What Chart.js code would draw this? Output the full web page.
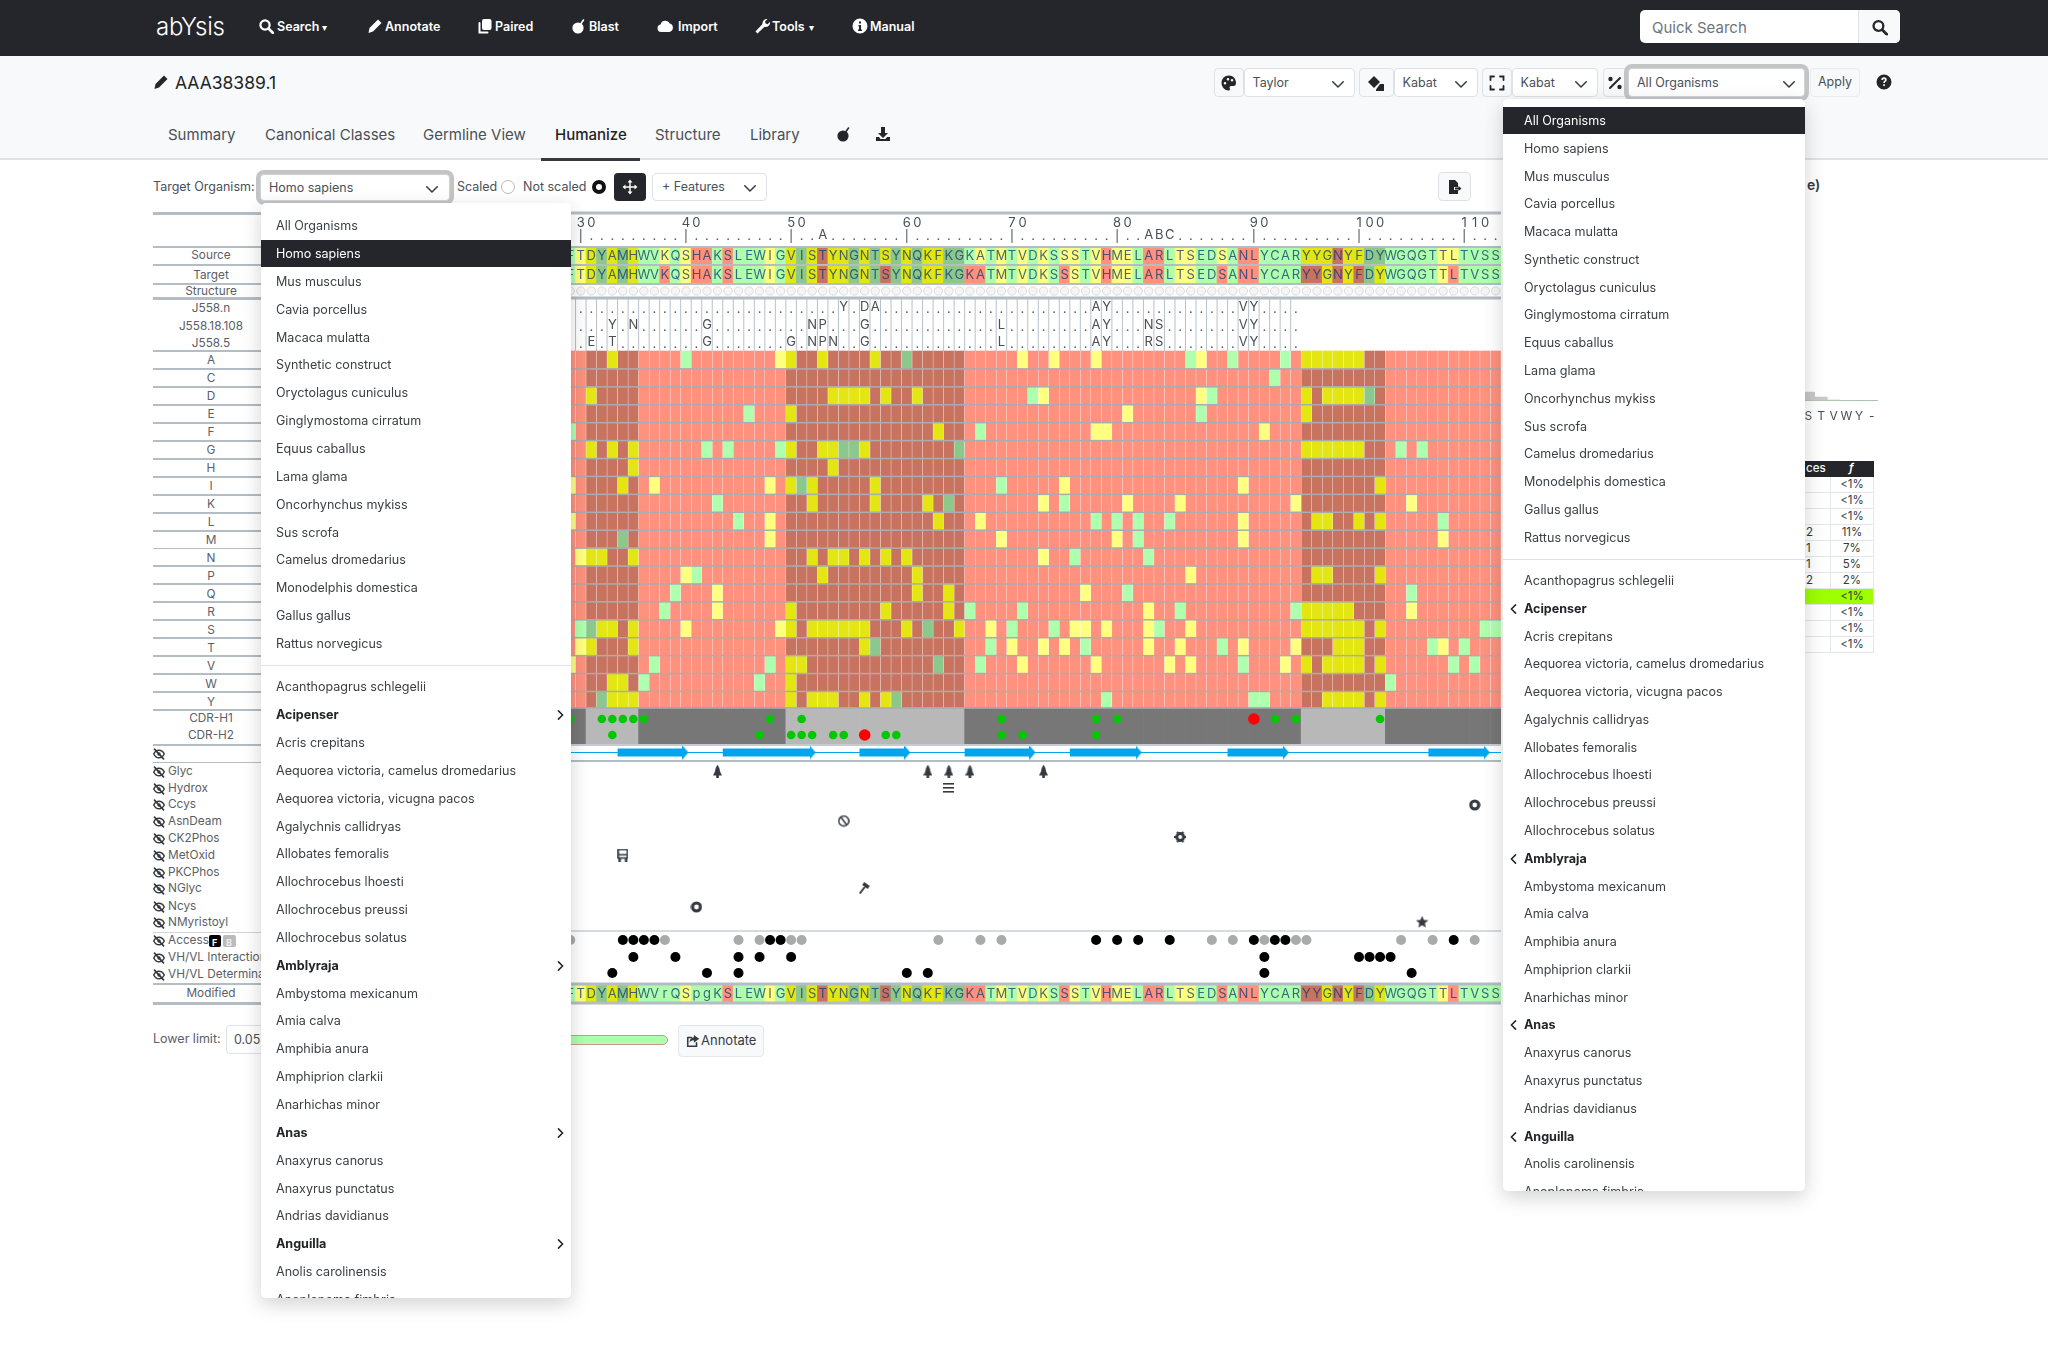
<!DOCTYPE html>
<html>
<head>
<meta charset="utf-8">
<title>AAA38389.1 - Humanize</title>
<script src="https://cdn.jsdelivr.net/npm/chart.js@4"></script>
<style>
html, body { margin: 0; background: #fff; }
body { position: relative; width: 2048px; height: 1348px; overflow: hidden; font-family: Inter, sans-serif; color: #343a40; font-size: 13.3px; }
.t { position: absolute; transform: translateY(-50%); white-space: nowrap; line-height: 1; }
.b { position: absolute; box-sizing: border-box; }
.i { position: absolute; transform: translateY(-50%); display: block; }
canvas { position: absolute; }
</style>
</head>
<body>
<canvas id="tracks" width="936" height="810" style="left:565px;top:205px;width:936px;height:810px;z-index:2"></canvas>
<canvas id="miniBars" width="76" height="50" style="left:1802px;top:375px;width:76px;height:50px;z-index:2"></canvas>
<script>
// ---- Data ----
const source = 'FTDYAMHWVKQSHAKSLEWIGVISTYNGNTSYNQKFKGKATMTVDKSSSTVHMELARLTSEDSANLYCARYYGNYFDYWGQGTTLTVSS';
const modified = 'FTDYAMHWVrQSpgKSLEWIGVISTYNGNTSYNQKFKGKATMTVDKSSSTVHMELARLTSEDSANLYCARYYGNYFDYWGQGTTLTVSS';
// g = common, y = uncommon, r = rare
const sourceFreq = 'gyygygyggygyrrgrgggygygyryygygygygyygggygygygygyygyryygrrgyyggygrrggggyyyryygggggggyygggg';
const targetFreq = 'gyygygyggrgyrrgrgggygygyryygygrgygyyggrrgygygygrygyryygrrgyyggrgrrggggrryryrgygggggyrgggg';
const modifiedFreq = 'gyygygyggggygggrgggygygyryygygrgygyyggrrgygygygrygyryygrrgyyggrgrrggggrryryrgygggggyrgggg';

// column index of each labelled position; letters are the insertions
const tickCols = [1, 11, 21, 32, 42, 52, 65, 75, 85];
const tickLabels = ['30', '40', '50', '60', '70', '80', '90', '100', '110'];
const insertionCols = [24, 55, 56, 57];
const insertionLabels = ['A', 'A', 'B', 'C'];

const germlineNames = ['J558.n', 'J558.18.108', 'J558.5'];
const germlineN = [[26, 'Y'], [28, 'D'], [29, 'A'], [50, 'A'], [51, 'Y'], [64, 'V'], [65, 'Y']];
const germline18 = [[4, 'Y'], [6, 'N'], [13, 'G'], [23, 'N'], [24, 'P'], [28, 'G'], [41, 'L'], [50, 'A'], [51, 'Y'], [55, 'N'], [56, 'S'], [64, 'V'], [65, 'Y']];
const germline5 = [[2, 'E'], [4, 'T'], [13, 'G'], [21, 'G'], [23, 'N'], [24, 'P'], [25, 'N'], [28, 'G'], [41, 'L'], [50, 'A'], [51, 'Y'], [55, 'R'], [56, 'S'], [64, 'V'], [65, 'Y']];

const aminoAcids = ['A', 'C', 'D', 'E', 'F', 'G', 'H', 'I', 'K', 'L', 'M', 'N', 'P', 'Q', 'R', 'S', 'T', 'V', 'W', 'Y'];
const rowYellow = [
  [4, 20, 21, 24, 29, 43, 46, 50, 60, 70, 71, 72, 73, 74, 75],
  [],
  [2, 25, 26, 27, 28, 30, 33, 45, 60, 70, 72, 73, 74, 75],
  [21, 53, 70],
  [35, 50, 51, 66],
  [2, 4, 6, 21, 24, 25, 28, 70, 71, 72, 73, 74, 75],
  [6, 25],
  [0, 5, 8, 19, 21, 23, 29, 47, 64, 77],
  [23, 29, 34, 45, 53, 58, 69, 80],
  [0, 19, 35, 39, 64, 71, 72, 75, 77],
  [19, 41, 52, 64, 83],
  [1, 2, 3, 6, 23, 25, 26, 28, 30, 32, 45],
  [11, 24, 33, 59, 71, 72, 77],
  [14, 33, 36, 49],
  [14, 21, 30, 36, 55, 70, 71, 72, 73, 74, 80],
  [3, 4, 6, 11, 20, 21, 23, 24, 25, 26, 27, 28, 32, 37, 40, 48, 49, 51, 55, 59, 70, 71, 72, 73, 74, 75, 77],
  [1, 2, 6, 28, 42, 45, 47, 55, 58, 64, 69, 73, 74, 75, 83],
  [0, 21, 22, 43, 50, 57, 59, 68, 70, 72, 73, 74, 75, 77],
  [4, 5, 21],
  [4, 5, 6, 21, 23, 24, 25, 28, 30, 72, 73, 74, 75, 77]
];
const rowGreen = [
  [11, 32, 59, 63, 68],
  [67],
  [44, 61, 76],
  [17, 60],
  [0, 39],
  [13, 15, 20, 26, 27, 37, 79, 81],
  [],
  [22, 41],
  [14, 36, 47],
  [16, 50, 52, 54, 57, 83],
  [5, 54],
  [48, 55],
  [12],
  [10, 53, 80],
  [9, 38, 43, 58, 69],
  [1, 2, 34, 42, 46, 56, 87, 88],
  [29, 40, 49, 62, 82, 85],
  [8, 19, 35, 39, 64, 84, 86],
  [7, 18, 78],
  [3, 31, 51, 65, 66]
];

const cdrRanges = [[2, 6], [21, 37], [70, 77]];
const cdrH1Green = [0, 3, 4, 5, 6, 7, 19, 22, 41, 50, 52, 67, 69, 77];
const cdrH1Red = [65];
const cdrH2Green = [4, 18, 21, 22, 23, 25, 26, 30, 31, 41, 43, 50];
const cdrH2Red = [28];

const strandRanges = [[4.5, 10.7], [14.5, 22.8], [27.5, 31.8], [37.5, 43.7], [47.5, 53.8], [62.5, 67.8], [81.6, 86.9]];

const glycCols = [14, 34, 36, 38, 45];
const hydroxCols = [36];
const ccysCols = [86];
const asnDeamCols = [26];
const ck2PhosCols = [58];
const metOxidCols = [5];
const nGlycCols = [28];
const nCysCols = [12];
const nMyristoylCols = [81];

const accessBlack = [5, 6, 7, 8, 19, 20, 50, 52, 54, 57, 65, 67, 68, 84];
const accessGray = [0, 9, 16, 18, 21, 22, 35, 39, 41, 61, 63, 66, 69, 70, 79, 82, 86];
const interactionCols = [6, 10, 16, 18, 21, 66, 75, 76, 77, 78];
const determinantCols = [4, 13, 16, 32, 34, 66, 80];

const miniLabels = ['S', 'T', 'V', 'W', 'Y', '-'];
const miniGray = [10, 4, 0, 0, 0, 0];
const miniGreen = [0, 0, 1, 0, 0, 0];
const freqValues = ['<1%', '<1%', '<1%', '11%', '7%', '5%', '2%', '<1%', '<1%', '<1%', '<1%'];
const countValues = ['', '', '', '2', '1', '1', '2', '', '', '', ''];

const mainOrganisms = ['All Organisms', 'Homo sapiens', 'Mus musculus', 'Cavia porcellus', 'Macaca mulatta', 'Synthetic construct', 'Oryctolagus cuniculus', 'Ginglymostoma cirratum', 'Equus caballus', 'Lama glama', 'Oncorhynchus mykiss', 'Sus scrofa', 'Camelus dromedarius', 'Monodelphis domestica', 'Gallus gallus', 'Rattus norvegicus'];
const otherOrganisms = ['Acanthopagrus schlegelii', 'Acipenser', 'Acris crepitans', 'Aequorea victoria, camelus dromedarius', 'Aequorea victoria, vicugna pacos', 'Agalychnis callidryas', 'Allobates femoralis', 'Allochrocebus lhoesti', 'Allochrocebus preussi', 'Allochrocebus solatus', 'Amblyraja', 'Ambystoma mexicanum', 'Amia calva', 'Amphibia anura', 'Amphiprion clarkii', 'Anarhichas minor', 'Anas', 'Anaxyrus canorus', 'Anaxyrus punctatus', 'Andrias davidianus', 'Anguilla', 'Anolis carolinensis', 'Anoplopoma fimbria'];
const organismGroups = ['Acipenser', 'Amblyraja', 'Anas', 'Anguilla'];

// ---- Layout (page pixels, the y scale of the tracks chart runs in them) ----
const HEAT_TOP = 351, HEAT_ROW = 17.92;
const SOURCE_ROW = [248, 264], TARGET_ROW = [266, 283], MODIFIED_ROW = [985, 1002];
const CDR_ROW = [708, 744];
const GERMLINE_Y = [307, 325, 342];
const FEATURE_Y = { glyc: 771, hydrox: 788, ccys: 805, asn: 821, ck2: 837, met: 855, ngly: 888, ncys: 907, myr: 922 };
const ACCESS_Y = [940, 957, 973];
const STRAND_Y = 752.5, STRUCTURE_Y = 291, CDR_Y = [719, 735];

const palette = { r: '#ff917e', g: '#aeffae', y: '#ffff80' };
const paletteCdr = { r: '#c8735f', g: '#8cc78c', y: '#e3e612' };

function inCdr(col) {
  return cdrRanges.some(r => col >= r[0] && col <= r[1]);
}

function cellColor(code, col) {
  return (inCdr(col) ? paletteCdr : palette)[code];
}

// ---- Tracks chart ----
function sequenceCells(freq, row) {
  return freq.split('').map((code, col) => ({ x: col, y: row, color: cellColor(code, col) }));
}

const heatCells = [];
aminoAcids.forEach((aa, row) => {
  const top = HEAT_TOP + row * HEAT_ROW;
  for (let col = 0; col < source.length; col++) {
    let code = 'r';
    if (rowYellow[row].includes(col)) code = 'y';
    if (rowGreen[row].includes(col)) code = 'g';
    heatCells.push({ x: col, y: [top, top + HEAT_ROW], color: cellColor(code, col) });
  }
});

const cdrCells = source.split('').map((_, col) => ({ x: col, y: CDR_ROW, color: inCdr(col) ? '#b8b8b8' : '#777777' }));
const allColumns = source.split('').map((_, col) => ({ x: col, y: STRUCTURE_Y }));

function at(cols, y) {
  return cols.map(col => ({ x: col, y: y }));
}

function strandLine() {
  const pts = [];
  strandRanges.forEach(r => { pts.push({ x: r[0], y: STRAND_Y }, { x: r[1], y: STRAND_Y }, { x: r[1], y: null }); });
  return pts;
}

function icon(w, h, draw) {
  const c = document.createElement('canvas');
  c.width = w; c.height = h;
  const g = c.getContext('2d');
  g.fillStyle = g.strokeStyle = '#343a40';
  draw(g);
  return c;
}

const arrowHead = icon(6, 14, g => { g.fillStyle = '#00a5ec'; g.beginPath(); g.moveTo(0, 0); g.lineTo(6, 7); g.lineTo(0, 14); g.fill(); });
const treeIcon = icon(9, 13, g => {
  g.beginPath(); g.moveTo(4.5, 0); g.lineTo(6.5, 4); g.lineTo(7, 7); g.lineTo(9, 11); g.lineTo(0, 11); g.lineTo(2, 7); g.lineTo(2.5, 4); g.fill();
  g.fillRect(3.2, 11, 2.6, 2);
});
const barsIcon = icon(11, 12, g => { g.fillRect(0, 1, 11, 1.6); g.fillRect(0, 5, 11, 1.6); g.fillRect(0, 9, 11, 1.6); });
const ringIcon = icon(12, 14, g => { g.lineWidth = 3.2; g.beginPath(); g.arc(6, 7, 4, 0, 7); g.stroke(); });
const banIcon = icon(12, 13, g => { g.lineWidth = 1.5; g.beginPath(); g.arc(6, 6.5, 5, 0, 7); g.moveTo(3, 2.5); g.lineTo(9, 10.5); g.stroke(); });
const gearIcon = icon(12, 12, g => {
  g.lineWidth = 3; g.beginPath(); g.arc(6, 6, 3.4, 0, 7); g.stroke();
  g.lineWidth = 2;
  for (let k = 0; k < 6; k++) { const a = k * Math.PI / 3; g.beginPath(); g.moveTo(6 + 3 * Math.cos(a), 6 + 3 * Math.sin(a)); g.lineTo(6 + 6 * Math.cos(a), 6 + 6 * Math.sin(a)); g.stroke(); }
});
const busIcon = icon(11, 13, g => { g.lineWidth = 1.6; g.strokeRect(1, 1, 9, 8.5); g.fillRect(1, 5.5, 9, 1.5); g.fillRect(1, 9.5, 2.5, 3.5); g.fillRect(7.5, 9.5, 2.5, 3.5); });
const hammerIcon = icon(12, 12, g => { g.lineWidth = 2; g.beginPath(); g.moveTo(1, 11.5); g.lineTo(6, 5); g.stroke(); g.lineWidth = 3.5; g.beginPath(); g.moveTo(4.5, 1.5); g.lineTo(10, 5.5); g.stroke(); });
const starIcon = icon(13, 13, g => {
  g.beginPath();
  for (let k = 0; k < 10; k++) { const a = -Math.PI / 2 + k * Math.PI / 5, r = k % 2 ? 2.9 : 6.5; g.lineTo(6.5 + r * Math.cos(a), 6.8 + r * Math.sin(a)); }
  g.fill();
});

function marks(data, style, radius) {
  return { type: 'scatter', data: data, pointStyle: style, pointRadius: radius || 5, pointBackgroundColor: '#343a40', pointBorderWidth: 0 };
}

function dots(data, color, radius) {
  return { type: 'scatter', data: data, pointRadius: radius, pointBackgroundColor: color, pointBorderWidth: 0 };
}

function cells(data, thickness) {
  return { type: 'bar', data: data, barThickness: thickness, grouped: false, backgroundColor: ctx => ctx.raw && ctx.raw.color };
}

// Letters, ruler and separators are drawn on top of the marks from the same scales
const trackOverlay = {
  id: 'trackOverlay',
  afterDatasetsDraw(chart) {
    const g = chart.ctx, x = chart.scales.x, y = chart.scales.y;
    const left = x.getPixelForValue(-0.5), right = x.getPixelForValue(88.5);
    g.save();
    g.textAlign = 'center';
    g.textBaseline = 'middle';

    function hLine(py, width, color) {
      g.fillStyle = color;
      g.fillRect(left, y.getPixelForValue(py) - width / 2, right - left, width);
    }

    // heat map row lines
    for (let r = 1; r < aminoAcids.length; r++) hLine(HEAT_TOP + r * HEAT_ROW, 1.5, '#a9adb0');
    hLine(CDR_ROW[0], 1.5, '#a9adb0');
    hLine(213, 3, '#b4bcc4');
    hLine(247, 2, '#b4bcc4');
    hLine(265, 2, '#b4bcc4');
    hLine(284, 2, '#b4bcc4');
    hLine(298, 3, '#b4bcc4');
    hLine(CDR_ROW[1] + 1, 2, '#c5cbd0');
    hLine(761, 2, '#b4bcc4');
    hLine(931, 1.5, '#ccd0d4');
    hLine(984, 3, '#b4bcc4');
    hLine(1003, 3, '#b4bcc4');

    // ruler
    g.font = '13px Inter';
    g.fillStyle = '#4a4f55';
    for (let col = 1; col < source.length; col++) {
      const k = insertionCols.indexOf(col);
      if (k >= 0) {
        g.fillText(insertionLabels[k], x.getPixelForValue(col), y.getPixelForValue(235.5));
      } else if (!tickCols.includes(col)) {
        g.fillText('.', x.getPixelForValue(col), y.getPixelForValue(236));
      }
    }
    tickLabels.forEach((label, k) => {
      const px = x.getPixelForValue(tickCols[k]);
      g.fillRect(px - .5, y.getPixelForValue(229), 1, 14);
      label.split('').forEach((digit, d) => g.fillText(digit, x.getPixelForValue(tickCols[k] + d), y.getPixelForValue(223)));
    });

    // germline columns
    g.fillStyle = '#b8c0c8';
    for (let col = 0; col < 69; col++) g.fillRect(x.getPixelForValue(col + 0.5) - .5, y.getPixelForValue(299), 1, y.getPixelForValue(351) - y.getPixelForValue(299));
    g.fillStyle = '#4a4f55';
    [germlineN, germline18, germline5].forEach((row, r) => {
      const letters = new Map(row);
      for (let col = 1; col < 70; col++) {
        const ch = letters.get(col) || '.';
        g.fillText(ch, x.getPixelForValue(col), y.getPixelForValue(GERMLINE_Y[r] + (ch === '.' ? 2 : 0)));
      }
    });

    // sequences
    g.fillStyle = 'rgba(22, 62, 112, .78)';
    [[source, SOURCE_ROW], [source, TARGET_ROW], [modified, MODIFIED_ROW]].forEach(item => {
      const midY = y.getPixelForValue((item[1][0] + item[1][1]) / 2);
      item[0].split('').forEach((ch, col) => g.fillText(ch, x.getPixelForValue(col), midY + .5));
    });
    g.restore();
  }
};

new Chart(document.getElementById('tracks'), {
  type: 'bar',
  plugins: [trackOverlay],
  data: {
    datasets: [
      dots(at(cdrH1Red, CDR_Y[0]), '#ff0000', 5.8),
      dots(at(cdrH2Red, CDR_Y[1]), '#ff0000', 5.8),
      dots(at(cdrH1Green, CDR_Y[0]), '#00c800', 4.3),
      dots(at(cdrH2Green, CDR_Y[1]), '#00c800', 4.3),
      dots(at(accessBlack, ACCESS_Y[0]), '#000000', 5),
      dots(at(accessGray, ACCESS_Y[0]), '#aaaaaa', 5),
      dots(at(interactionCols, ACCESS_Y[1]), '#000000', 5),
      dots(at(determinantCols, ACCESS_Y[2]), '#000000', 5),
      marks(at(glycCols, FEATURE_Y.glyc), treeIcon),
      marks(at(hydroxCols, FEATURE_Y.hydrox), barsIcon),
      marks(at(ccysCols, FEATURE_Y.ccys), ringIcon),
      marks(at(asnDeamCols, FEATURE_Y.asn), banIcon),
      marks(at(ck2PhosCols, FEATURE_Y.ck2), gearIcon),
      marks(at(metOxidCols, FEATURE_Y.met), busIcon),
      marks(at(nGlycCols, FEATURE_Y.ngly), hammerIcon),
      marks(at(nCysCols, FEATURE_Y.ncys), ringIcon),
      marks(at(nMyristoylCols, FEATURE_Y.myr), starIcon),
      marks(strandRanges.map(r => ({ x: r[1] + 0.25, y: STRAND_Y })), arrowHead),
      { type: 'line', data: strandLine(), borderColor: '#00a5ec', borderWidth: 8, pointRadius: 0, borderCapStyle: 'butt', spanGaps: false },
      { type: 'line', data: [{ x: -0.5, y: STRAND_Y }, { x: 88.5, y: STRAND_Y }], borderColor: '#00a5ec', borderWidth: 1, pointRadius: 0 },
      { type: 'scatter', data: allColumns, pointRadius: 4.2, pointBackgroundColor: '#f5f5f5', pointBorderColor: '#dcdcdc', pointBorderWidth: 1 },
      cells(sequenceCells(sourceFreq, SOURCE_ROW), 10.52),
      cells(sequenceCells(targetFreq, TARGET_ROW), 10.52),
      cells(sequenceCells(modifiedFreq, MODIFIED_ROW), 10.52),
      cells(cdrCells, 10.52),
      cells(heatCells, 9.5)
    ]
  },
  options: {
    responsive: false,
    animation: false,
    devicePixelRatio: 1,
    layout: { padding: 0, autoPadding: false },
    plugins: { legend: { display: false }, tooltip: { enabled: false } },
    scales: {
      x: { type: 'linear', min: -0.5, max: 88.5, display: false, offset: false },
      y: { type: 'linear', min: 205, max: 1015, reverse: true, display: false, offset: false }
    }
  }
});

// Small residue bars on the right, mostly hidden behind the menu
new Chart(document.getElementById('miniBars'), {
  type: 'bar',
  data: {
    labels: miniLabels,
    datasets: [
      { data: miniGray, backgroundColor: '#c8c8c8', categoryPercentage: 1, barPercentage: 1, grouped: false },
      { data: miniGreen, backgroundColor: '#aeffae', categoryPercentage: 1, barPercentage: 1, grouped: false }
    ]
  },
  options: {
    responsive: false,
    animation: false,
    devicePixelRatio: 1,
    layout: { padding: 0 },
    plugins: { legend: { display: false }, tooltip: { enabled: false } },
    scales: {
      x: { grid: { display: false }, border: { color: '#999' }, ticks: { color: '#4a4f55', font: { family: 'Inter', size: 12 }, padding: 1, autoSkip: false, maxRotation: 0 } },
      y: { display: false, min: 0, max: 30 }
    }
  }
});

// ---- Page chrome ----
const S = 'stroke="currentColor" fill="none" stroke-linecap="round"';
const glyphs = {
  search: `<circle cx="7" cy="7" r="4.6" stroke-width="2.2" ${S}/><path d="M10.5 10.5L15 15" stroke-width="2.6" ${S}/>`,
  pencil: '<path d="M1.5 15l1-5L11 1.5 14.5 5 6 13.5z"/>',
  copy: `<rect x="5" y="1" width="9.5" height="11" rx="2"/><path d="M2.5 5v9.5h8" stroke-width="2" ${S}/>`,
  bomb: `<circle cx="7" cy="10" r="5.6"/><path d="M10 5.5l2.5-3.5" stroke-width="1.6" ${S}/>`,
  cloud: '<path d="M4 14a3.8 3.8 0 01-.5-7.5 5 5 0 019.3-1A4.4 4.4 0 0112.5 14z"/>',
  wrench: '<path d="M1.5 13.5l7-7.5a4.4 4.4 0 015-5L11 3.6l.6 2 2 .6L16 3.8a4.4 4.4 0 01-5.500 5L3.500 15.500z"/>',
  info: '<path fill-rule="evenodd" d="M8 .5a7.500 7.500 0 100 15 7.500 7.500 0 000-15zM7 3.500h2v2H7zM6.500 7h2.500v4.500h1v1.500h-4v-1.500h1V8.500h-.5z"/>',
  question: '<path fill-rule="evenodd" d="M8 .5a7.500 7.500 0 100 15 7.500 7.500 0 000-15zM5.300 6a2.700 2.700 0 115.400 0c0 1.500-1.800 1.800-1.800 3H7.200c0-2 1.800-2.200 1.800-3a1 1 0 00-2 0zM7.200 10.300h1.700V12H7.200z"/>',
  palette: '<path fill-rule="evenodd" d="M8 .5C3.500.5 .5 4 .5 8s3.500 7.500 7 7.500c2 0 1.500-2 1-3 0-1 1-1.500 2-1.500h2c1.500 0 2.500-1 2.500-3C15 3.500 12 .5 8 .5zM4 7a1.300 1.300 0 110 2.600A1.300 1.300 0 014 7zM7 3a1.300 1.300 0 110 2.600A1.300 1.300 0 017 3zm4 1a1.300 1.300 0 110 2.600A1.300 1.300 0 0111 4z"/>',
  dice: '<path d="M6 1l6 6-6 6-6-6z"/><path d="M12 9h4v7H8v-1.500z"/>',
  expand: `<path d="M1.500 5V1.500H5M11 1.500h3.500V5M14.500 11v3.500H11M5 14.500H1.500V11" stroke-width="1.800" ${S}/>`,
  percent: `<path d="M13 3L3 13" stroke-width="2" ${S}/><circle cx="3.500" cy="4" r="2.200"/><circle cx="12.500" cy="12" r="2.200"/>`,
  file: '<path d="M3 1h6l3 3v4H8v3h4v4H3z"/><path d="M9 8.500h3.500V7l3 2.500-3 2.500v-1.500H9z"/>',
  move: `<path d="M8 3v10M3 8h10" stroke-width="1.400" ${S}/><path d="M8 .5l2.500 3h-5zM8 15.500l-2.500-3h5zM.5 8l3-2.500v5zM15.500 8l-3 2.500v-5z"/>`,
  download: '<path d="M6 1h4v6h3l-5 5-5-5h3z"/><path d="M1 11h3l1.500 2h5l1.500-2h3v4H1z"/>',
  share: `<path d="M2 4h4M2 4v10h10v-4" stroke-width="1.800" ${S}/><path d="M9 1l6 4.500L9 10V7c-3 0-4 1-5 3 0-4 2-6 5-6.300z"/>`,
  eye: `<path d="M1 8c2-4 4.500-5 7-5s5 1 7 5c-2 4-4.500 5-7 5s-5-1-7-5z" stroke-width="2" ${S}/><circle cx="8" cy="8" r="2.300"/><path d="M2 1.500L14 14.500" stroke-width="2.200" ${S}/>`,
  right: `<path d="M5 2l6 6-6 6" stroke-width="2.200" ${S}/>`,
  left: `<path d="M11 2L5 8l6 6" stroke-width="2.200" ${S}/>`,
  down: `<path d="M2 5.500l6 6 6-6" stroke-width="1.700" ${S}/>`
};

function add(html) {
  document.body.insertAdjacentHTML('beforeend', html);
}

function text(x, y, str, style) {
  const safe = str.replace(/&/g, '&amp;').replace(/</g, '&lt;');
  add(`<div class="t" style="left:${x}px;top:${y}px;${style || ''}">${safe}</div>`);
}

function box(x, y, w, h, style) {
  add(`<div class="b" style="left:${x}px;top:${y}px;width:${w}px;height:${h}px;${style || ''}"></div>`);
}

function glyph(x, y, name, size, color, z) {
  add(`<svg class="i" viewBox="0 0 16 16" width="${size}" height="${size}" style="left:${x}px;top:${y}px;color:${color};fill:currentColor;z-index:${z || 0}">${glyphs[name]}</svg>`);
}

function select(x, y, w, h, label, chevronX, focused) {
  const ring = focused ? 'border:1px solid #ced4da;box-shadow:0 0 0 4px #c4c4c4;' : 'border:1px solid #dee2e6;';
  box(x, y, w, h, `background:#fff;border-radius:4px;${ring}`);
  text(x + 9, y + h / 2, label, 'color:#495057;z-index:1;font-size:12.500px');
  glyph(chevronX - 7, y + h / 2 + 1, 'down', 14, '#343a40', 1);
}

function iconButton(x, y, w, h, name) {
  box(x, y, w, h, 'background:#f8f9fa;border:1px solid #dee2e6;border-radius:4px');
  glyph(x + w / 2 - 8, y + h / 2, name, 16, '#24262b', 1);
}

// top bar
box(0, 0, 2048, 56, 'background:#24262b');
box(0, 56, 2048, 104, 'background:#f8f9fa;border-bottom:2px solid #dee2e6');
text(156, 27, 'abYsis', 'color:#fff;font-size:24px;font-weight:300;letter-spacing:-.3px;z-index:1');
const navItems = [['Search', 258, 277, 'search'], ['Annotate', 367, 385, 'pencil'], ['Paired', 477, 495, 'copy'], ['Blast', 571, 589, 'bomb'], ['Import', 657, 678, 'cloud'], ['Tools', 754, 772, 'wrench'], ['Manual', 852, 870, 'info']];
navItems.forEach(n => {
  glyph(n[1], 26, n[3], 16, '#fff', 1);
  text(n[2], 26.500, n[0], 'color:#fff;font-weight:600;font-size:12.500px;z-index:1');
});
text(322, 27, '▾', 'color:#fff;font-size:10px;z-index:1');
text(809, 27, '▾', 'color:#fff;font-size:10px;z-index:1');
box(1640, 10, 260, 33, 'background:#fff;border-radius:5px;z-index:1');
box(1858, 10, 42, 33, 'background:#f8f9fa;border-left:1px solid #dee2e6;border-radius:0 5px 5px 0;z-index:1');
text(1652, 26.500, 'Quick Search', 'color:#6c757d;font-size:15px;z-index:2');
glyph(1871, 26.500, 'search', 17, '#24262b', 2);

// title and tabs
glyph(153, 82, 'pencil', 16, '#24262b');
text(175, 82.500, 'AAA38389.1', 'font-size:17.500px;color:#212529');
const tabs = [['Summary', 168], ['Canonical Classes', 265], ['Germline View', 423], ['Humanize', 555], ['Structure', 655], ['Library', 750]];
tabs.forEach(tab => text(tab[1], 134, tab[0], `font-size:15px;color:${tab[0] === 'Humanize' ? '#212529' : '#495057'};${tab[0] === 'Humanize' ? 'font-weight:500' : ''}`));
box(541, 158, 99, 3, 'background:#343a40');
glyph(836, 134, 'bomb', 16, '#24262b');
glyph(875, 134, 'download', 16, '#24262b');

// toolbar, right
const toolGroups = [
  [1213.500, 30, 'palette', 1243.500, 111, 'Taylor', 1338, false],
  [1359, 34.500, 'dice', 1393.500, 84.500, 'Kabat', 1461, false],
  [1482, 29.500, 'expand', 1511.500, 86, 'Kabat', 1581, false],
  [1602.500, 25.500, 'percent', 1628, 177, 'All Organisms', 1789, true]
];
toolGroups.forEach(t => {
  iconButton(t[0], 68, t[1], 29, t[2]);
  select(t[3], 68, t[4], 29, t[5], t[6], t[7]);
});
box(1810, 68, 50, 29, 'border:1px solid #e9ecef;border-radius:4px');
text(1818, 82, 'Apply', 'color:#495057;font-size:12.500px');
glyph(1876, 82, 'question', 16, '#24262b');

// toolbar, target organism
text(153, 186.500, 'Target Organism:', 'font-size:12.500px;color:#495057');
select(260, 174, 190, 27, 'Homo sapiens', 432, true);
text(457, 186.500, 'Scaled', 'font-size:12.500px;color:#495057');
box(501, 180, 14, 14, 'border:1px solid #bbb;border-radius:50%;background:#fff');
text(523, 186.500, 'Not scaled', 'font-size:12.500px;color:#495057');
box(592, 180, 14, 14, 'border:4px solid #111;border-radius:50%;background:#fff');
box(613.500, 173, 32, 28, 'background:#24262b;border-radius:4px');
glyph(621.500, 187, 'move', 16, '#fff', 1);
box(652, 173, 114.500, 28, 'border:1px solid #dee2e6;border-radius:4px');
text(662, 186.500, '+ Features', 'font-size:12.500px;color:#495057');
glyph(743, 188, 'down', 14, '#343a40');
iconButton(1437.500, 172, 33, 29, 'file');

// track labels
function labelLine(y, width, color) {
  box(153, y - width / 2, 108, width, `background:${color}`);
}
const LINE = '#b4bcc4';
[[213.500, 3], [247, 2], [265, 2], [284, 2], [298.500, 3], [1003.700, 2.500]].forEach(l => labelLine(l[0], l[1], LINE));
[351, 369, 387, 405, 423, 441, 459, 477, 495, 513, 531, 548.500, 566, 584, 602, 620, 638, 656, 674, 692, 710, 745, 762.700, 984].forEach(y => labelLine(y, 1.500, LINE));
labelLine(932.700, 1.200, '#d0d4d8');

function centred(y, str) {
  text(211, y, str, 'transform:translate(-50%,-50%);font-size:11.800px;color:#5a6066');
}
centred(256, 'Source');
centred(275.500, 'Target');
centred(292, 'Structure');
GERMLINE_Y.forEach((y, k) => centred(y + 2, germlineNames[k]));
aminoAcids.forEach((aa, k) => centred(361 + k * 18, aa));
centred(719, 'CDR-H1');
centred(736, 'CDR-H2');
centred(994, 'Modified');

const featureLabels = ['', 'Glyc', 'Hydrox', 'Ccys', 'AsnDeam', 'CK2Phos', 'MetOxid', 'PKCPhos', 'NGlyc', 'Ncys', 'NMyristoyl', 'Access', 'VH/VL Interactions', 'VH/VL Determinants'];
const featureRowsY = [754, 771.500, 788.500, 805, 822, 839, 855.700, 872.700, 889, 906.700, 923, 941, 958, 975];
featureLabels.forEach((name, k) => {
  glyph(153, featureRowsY[k], 'eye', 12, '#343a40');
  if (name) text(168, featureRowsY[k], name, 'font-size:11.800px;color:#5a6066');
});
box(209, 935, 12, 12, 'background:#000;border-radius:2px');
text(212, 941.500, 'F', 'color:#fff;font-size:9px;font-weight:700;z-index:1');
box(223, 935, 13, 12, 'background:#bbb;border-radius:2px');
text(226, 941.500, 'B', 'color:#eee;font-size:9px;font-weight:700;z-index:1');

// lower limit controls
text(153, 1039, 'Lower limit:', 'font-size:12.500px;color:#5a6066');
box(226, 1025, 60, 29, 'border:1px solid #dee2e6;border-radius:4px');
text(234, 1039.500, '0.05', 'font-size:12.500px;color:#495057');
box(440, 1035, 228, 10, 'background:#aeffae;border:1px solid #c89a8c;border-radius:5px');
box(678, 1025, 86, 32, 'background:#f8f9fa;border:1px solid #e4e7ea;border-radius:4px');
glyph(686, 1041, 'share', 14, '#343a40', 1);
text(701, 1040, 'Annotate', 'font-size:13px;color:#343a40');

// partly hidden panel, right of the alignment
text(1807, 185, 'e)', 'font-weight:600;font-size:14px;color:#343a40');
box(1805, 461, 25.500, 16, 'background:#24262b');
box(1831, 461, 43, 16, 'background:#24262b');
text(1806, 469, 'ces', 'color:#fff;font-size:11.500px;font-weight:500');
text(1849, 469, 'f', 'color:#fff;font-size:11.500px;font-style:italic;font-weight:600');
freqValues.forEach((value, k) => {
  const y = 477 + k * 16;
  const hit = k === 7;
  box(1805, y, 69, 16, `background:${hit ? '#9dff00' : '#fff'};border-bottom:1px solid #e4e7ea;border-right:1px solid #e4e7ea`);
  if (!hit) box(1830, y, 1, 16, 'background:#e4e7ea');
  text(1852, y + 8, value, 'transform:translate(-50%,-50%);font-size:11.500px;color:#343a40');
  if (countValues[k]) text(1806, y + 8, countValues[k], 'font-size:11.500px;color:#343a40');
});

// organism menus
function organismMenu(x, top, w, h, firstY, step, activeName, chevron, chevronX) {
  add(`<div class="b" style="left:${x}px;top:${top}px;width:${w}px;height:${h}px;background:#fff;border-radius:5px;box-shadow:0 6px 20px rgba(0,0,0,.18);overflow:hidden;z-index:5" data-menu></div>`);
  const menu = document.body.lastElementChild;
  const item = (y, str, style) => menu.insertAdjacentHTML('beforeend', `<div class="t" style="left:${x < 1000 ? 15 : 21}px;top:${y - top}px;${style}">${str}</div>`);
  const FONT = 'font-size:12.550px;';
  mainOrganisms.forEach((name, k) => {
    const y = firstY + k * step + 0.5;
    if (name === activeName) {
      menu.insertAdjacentHTML('beforeend', `<div class="b" style="left:0;top:${y - top - 14.400}px;width:100%;height:27.800px;background:#24262b"></div>`);
      item(y, name, `color:#fff;${FONT}`);
    } else {
      item(y, name, `color:#3a4046;${FONT}`);
    }
  });
  const dividerY = firstY + 15 * step + 22;
  menu.insertAdjacentHTML('beforeend', `<div class="b" style="left:0;top:${dividerY - top}px;width:100%;height:1px;background:#dee2e6"></div>`);
  const secondY = firstY + 15 * step + 43.800;
  otherOrganisms.forEach((name, k) => {
    const y = secondY + k * step;
    const group = organismGroups.includes(name);
    item(y, name, `color:${group ? '#212529' : '#3a4046'};${FONT}${group ? 'font-weight:700' : ''}`);
    if (group) menu.insertAdjacentHTML('beforeend', `<svg class="i" viewBox="0 0 16 16" width="11" height="11" style="left:${chevronX - x - 5}px;top:${y - top}px;color:#212529">${glyphs[chevron]}</svg>`);
  });
}
organismMenu(261, 202.500, 310, 1095.500, 225.700, 27.850, 'Homo sapiens', 'right', 560);
organismMenu(1503, 99, 302, 1092, 120.500, 27.780, 'All Organisms', 'left', 1513);
</script>
</body>
</html>
